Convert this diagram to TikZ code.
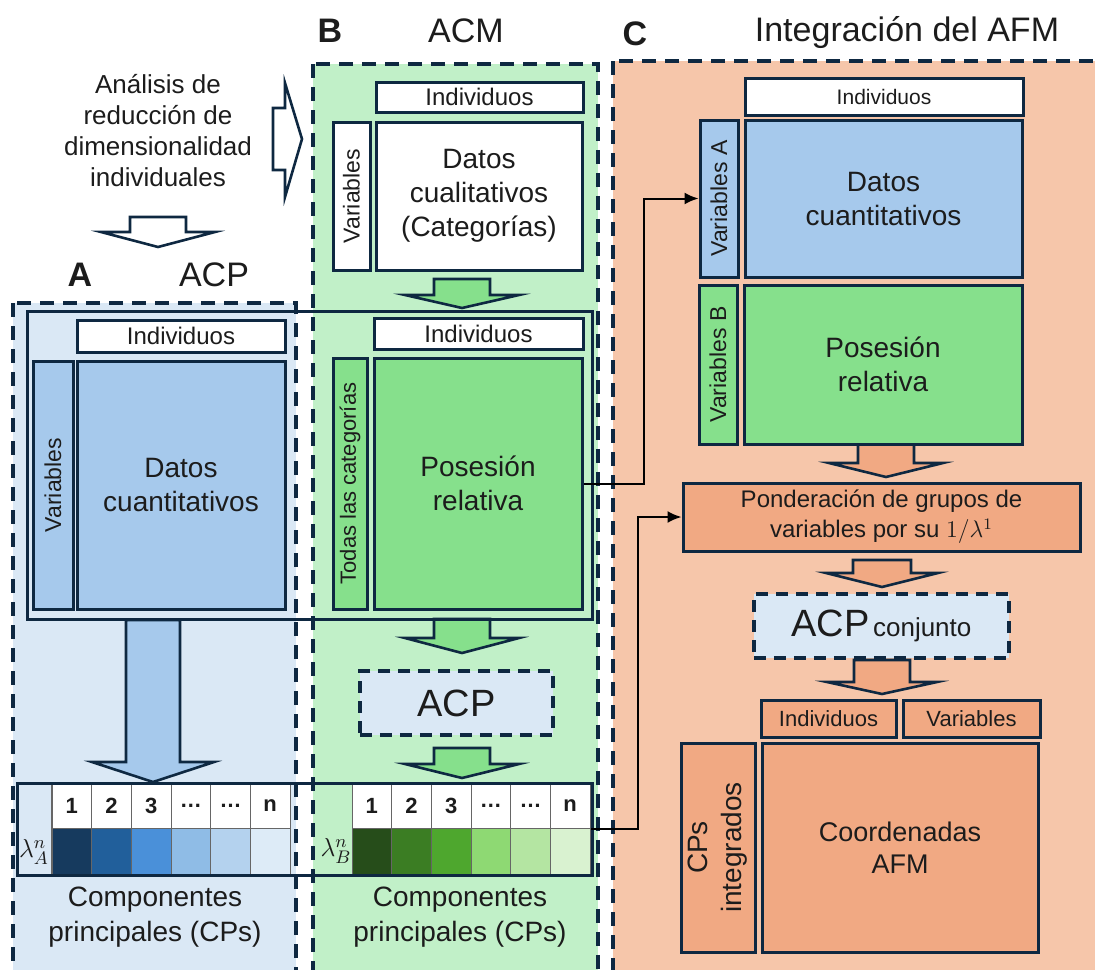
\documentclass[tikz,border=0pt]{standalone}
\usepackage{fix-cm}
\usepackage{amsmath}
\usepackage{fontspec}
\setmainfont{Liberation Sans}
\usepackage{xcolor}
\usetikzlibrary{arrows.meta}
\definecolor{navy}{HTML}{0E2841}
\definecolor{txt}{HTML}{1C1C1C}
\definecolor{bgA}{HTML}{DAE8F5}
\definecolor{bgB}{HTML}{C1F0C8}
\definecolor{bgC}{HTML}{F6C6AA}
\definecolor{blub}{HTML}{A6C9EC}
\definecolor{grnb}{HTML}{86E08C}
\definecolor{orb}{HTML}{F1A983}
\definecolor{azul1}{HTML}{163A5E}
\definecolor{azul2}{HTML}{215F9B}
\definecolor{azul3}{HTML}{4A90D9}
\definecolor{azul4}{HTML}{8FBCE6}
\definecolor{azul5}{HTML}{B4D2EE}
\definecolor{azul6}{HTML}{DDEBF7}
\definecolor{verde1}{HTML}{264D1A}
\definecolor{verde2}{HTML}{3B7D23}
\definecolor{verde3}{HTML}{4EA72E}
\definecolor{verde4}{HTML}{8ED973}
\definecolor{verde5}{HTML}{B4E5A2}
\definecolor{verde6}{HTML}{D9F2D0}

\begin{document}
\begin{tikzpicture}[x=0.5pt,y=-0.5pt,every node/.style={align=center,text=txt},
  panel/.style={draw=navy,line width=1.9pt,dash pattern=on 7pt off 4.5pt},
  mbox/.style={draw=navy,line width=1.5pt,inner sep=0pt},
  dbox/.style={draw=navy,line width=1.9pt,dash pattern=on 6pt off 4pt,fill=bgA,inner sep=0pt},
  frm/.style={draw=navy,line width=1.5pt},
  blk/.style={draw=navy,line width=1.3pt},
  conn/.style={draw=black,line width=1pt,-{Latex[length=7pt,width=6pt]}},
  cellh/.style={draw=black!60,line width=0.5pt,fill=white,minimum width=19.83pt,minimum height=22.5pt,inner sep=0pt,font=\bfseries\fontsize{11}{13}\selectfont},
  cellc/.style={draw=black!60,line width=0.5pt,minimum width=19.83pt,minimum height=23.5pt,inner sep=0pt},
  ttl/.style={font=\fontsize{17}{20}\selectfont},
  small/.style={font=\fontsize{12}{14}\selectfont},
  big/.style={font=\fontsize{14}{17}\selectfont}]
  \useasboundingbox (0,0) rectangle (1095,969);
  % panels
  \draw[panel,fill=bgA] (13,303) rectangle (296,995);
  \draw[panel,fill=bgB] (313,64) rectangle (598,995);
  \draw[panel,fill=bgC] (613,61) rectangle (1115,995);
  % titles
  \node[ttl,font=\bfseries\fontsize{17}{20}\selectfont] (tA) at (80,275) {A};
  \node[ttl] (tACP) at (214,275) {ACP};
  \node[ttl,font=\bfseries\fontsize{17}{20}\selectfont] (tB) at (330,31) {B};
  \node[ttl] (tACM) at (466,31) {ACM};
  \node[ttl,font=\bfseries\fontsize{17}{20}\selectfont] (tC) at (635,34) {C};
  \node[ttl] (tAFM) at (907,33) {Integración del AFM};
  \node[font=\fontsize{13}{15.5}\selectfont] (intro) at (158,131) {Análisis de\\reducción de\\dimensionalidad\\individuales};
  % block arrows
  \draw[blk,fill=white] (273,108) -- (285,108) -- (285,83) -- (302,139) -- (285,197) -- (285,170) -- (273,170) -- cycle;
  \foreach \cx/\yt/\yb/\yp/\sw/\hw/\col in {158/217/232/247/28/57/white,462/279/295/308/28/57/grnb,
      153/620/762/782/27/61/blub,462/619/638/653/28/57/grnb,462/748/764/778/28/57/grnb,
      886/444/463/477/28/57/orb,882/560/573/587/29/56/orb,882/660/682/694/28/55/orb}
    \draw[blk,fill=\col] ({\cx-\sw},\yt) -- ({\cx+\sw},\yt) -- ({\cx+\sw},\yb) -- ({\cx+\hw},\yb)
      -- (\cx,\yp) -- ({\cx-\hw},\yb) -- ({\cx-\sw},\yb) -- cycle;
  % A
  \node[mbox,small,fill=white,minimum width=104pt,minimum height=16pt] (indA) at (181,336) {Individuos};
  \node[mbox,fill=blub,rotate=90,minimum width=124pt,minimum height=20pt,font=\fontsize{11.5}{13}\selectfont] (varA) at (53,485) {Variables};
  \node[mbox,big,fill=blub,minimum width=104pt,minimum height=124pt] (datA) at (181,485) {Datos\\cuantitativos};
  % B
  \node[mbox,small,fill=white,minimum width=103.5pt,minimum height=15pt] (indB1) at (479.5,97) {Individuos};
  \node[mbox,fill=white,rotate=90,minimum width=74pt,minimum height=18.5pt,font=\fontsize{11.5}{13}\selectfont] (varB) at (351.5,196) {Variables};
  \node[mbox,big,fill=white,minimum width=103pt,minimum height=74pt] (cualB) at (479,196) {Datos\\cualitativos\\(Categorías)};
  \node[mbox,small,fill=white,minimum width=104.5pt,minimum height=15.5pt] (indB2) at (478.5,333.5) {Individuos};
  \node[mbox,fill=grnb,rotate=90,minimum width=125.5pt,minimum height=17pt,font=\fontsize{11}{13}\selectfont] (todB) at (350,483.5) {Todas las categorías};
  \node[mbox,big,fill=grnb,minimum width=104pt,minimum height=125.5pt] (posB) at (478,483.5) {Posesión\\relativa};
  \node[dbox,minimum width=96.5pt,minimum height=32pt,font=\fontsize{19}{22}\selectfont] (acpB) at (456.5,703) {ACP};
  % C
  \node[mbox,fill=white,minimum width=139pt,minimum height=18.5pt,font=\fontsize{10.5}{12}\selectfont] (indC1) at (884,96.5) {Individuos};
  \node[mbox,fill=blub,rotate=90,minimum width=78.5pt,minimum height=19pt,font=\fontsize{11.5}{13}\selectfont] (varCA) at (719,198.5) {Variables A};
  \node[mbox,big,fill=blub,minimum width=138.5pt,minimum height=78.5pt] (datC) at (883.5,198.5) {Datos\\cuantitativos};
  \node[mbox,fill=grnb,rotate=90,minimum width=79.5pt,minimum height=19pt,font=\fontsize{11.5}{13}\selectfont] (varCB) at (718,364.5) {Variables B};
  \node[mbox,big,fill=grnb,minimum width=139pt,minimum height=79.5pt] (posC) at (883,364.5) {Posesión\\relativa};
  \node[mbox,fill=orb,minimum width=198.5pt,minimum height=34pt,font=\fontsize{12}{15}\selectfont] (pond) at (881.5,517) {Ponderación de grupos de\\variables por su $1/\lambda^1$};
  \node[dbox,minimum width=127.5pt,minimum height=32pt] (acpC) at (881.5,626) {{\fontsize{19}{22}\selectfont ACP}\,{\fontsize{13}{15}\selectfont conjunto}};
  \node[mbox,fill=orb,minimum width=67.5pt,minimum height=18.5pt,font=\fontsize{11}{13}\selectfont] (indC2) at (828.5,718.5) {Individuos};
  \node[mbox,fill=orb,minimum width=68.5pt,minimum height=18.5pt,font=\fontsize{11}{13}\selectfont] (varC2) at (971.5,718.5) {Variables};
  \node[mbox,big,fill=orb,rotate=90,minimum width=104.5pt,minimum height=37pt] (cpsC) at (718,847.5) {CPs\\integrados};
  \node[mbox,fill=orb,minimum width=138pt,minimum height=104.5pt,font=\fontsize{13.5}{16}\selectfont] (coordC) at (900,847.5) {Coordenadas\\AFM};
  % CP tables
  \foreach \i/\t in {1/1,2/2,3/3,4/\ldots,5/\ldots,6/n} {
    \node[cellh] (hA\i) at ({52+39.67*(\i-0.5)},805.5) {\t};
    \node[cellc,fill=azul\i] (cA\i) at ({52+39.67*(\i-0.5)},851.5) {};
    \node[cellh] (hB\i) at ({352+39.67*(\i-0.5)},805.5) {\t};
    \node[cellc,fill=verde\i] (cB\i) at ({352+39.67*(\i-0.5)},851.5) {};
  }
  \node[inner sep=0.5pt,font=\fontsize{13}{15}\selectfont] (lamA) at (34,852) {$\lambda_A^n$};
  \node[inner sep=0.5pt,font=\fontsize{13}{15}\selectfont] (lamB) at (336,851) {$\lambda_B^n$};
  \draw[black!60,line width=0.5pt] (hA1.north west) -- (cA1.south west);
  \node[big,font=\fontsize{14}{17.5}\selectfont] (compA) at (155,917) {Componentes\\principales (CPs)};
  \node[big,font=\fontsize{14}{17.5}\selectfont] (compB) at (460,917) {Componentes\\principales (CPs)};
  % frames
  \draw[frm] (27,311) rectangle (592,619);
  \draw[frm] (17,783) rectangle (592,875);
  % connectors
  \draw[conn] (posB.east) -- ++(60,0) |- (varCA.north);
  \draw[conn] (hB6.south east) -- ++(47,0) |- (pond.west);
\end{tikzpicture}
\end{document}
